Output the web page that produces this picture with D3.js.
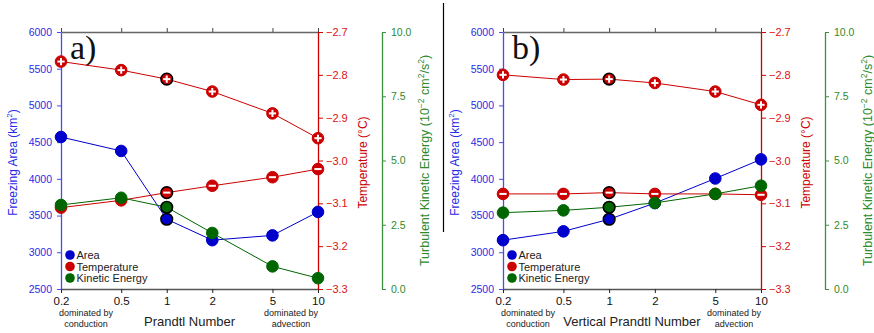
<!DOCTYPE html>
<html>
<head>
<meta charset="utf-8">
<script src="https://cdn.jsdelivr.net/npm/d3@7"></script>
<style>
  html, body { margin: 0; padding: 0; background: #fff; }
  svg { display: block; font-family: "Liberation Sans", Arial, Helvetica, sans-serif; }
</style>
</head>
<body>
<svg id="chart" width="874" height="333"></svg>
<script>
// Prandtl number sweep: x values and their labels
const prandtl = [0.2, 0.5, 1, 2, 5, 10];
const prandtlLabels = ["0.2", "0.5", "1", "2", "5", "10"];

// Panel a) – Prandtl number
const areaA = [4570, 4380, 3450, 3165, 3230, 3550];
const tempUpperA = [-2.769, -2.789, -2.810, -2.839, -2.890, -2.948];
const tempLowerA = [-3.110, -3.093, -3.075, -3.059, -3.039, -3.020];
const tkeA = [3.27, 3.55, 3.18, 2.18, 0.88, 0.42];

// Panel b) – vertical Prandtl number
const areaB = [3165, 3285, 3450, 3670, 4005, 4265];
const tempUpperB = [-2.800, -2.811, -2.810, -2.819, -2.839, -2.870];
const tempLowerB = [-3.078, -3.078, -3.075, -3.078, -3.078, -3.080];
const tkeB = [2.97, 3.06, 3.18, 3.35, 3.70, 4.02];

// Axis ticks
const areaTicks = [2500, 3000, 3500, 4000, 4500, 5000, 5500, 6000];
const tempTicks = [-3.3, -3.2, -3.1, -3.0, -2.9, -2.8, -2.7];
const tkeTicks = [0, 2.5, 5, 7.5, 10];

const legendItems = ["Area", "Temperature", "Kinetic Energy"];
const referenceCase = 1;

const BLUE = "#0000cc", BLUE_AX = "#4a4aee", BLUE_TXT = "#2a2ae6";
const RED = "#cc0000", RED_TXT = "#dd1111";
const GREEN = "#006600", GREEN_AX = "#3f8f3f", GREEN_TXT = "#2d8a2d";
const SANS = "'Liberation Sans', Arial, sans-serif";

const svg = d3.select("#chart");

// divider between the two panels
svg.append("line").attr("x1", 443.5).attr("x2", 443.5).attr("y1", 3).attr("y2", 232)
  .attr("stroke", "#000").attr("stroke-width", 1.2);

function panel(opt) {
  const L = opt.left, R = opt.right, T = 32, B = 289;
  const g = svg.append("g");
  const x = d3.scaleLog().domain([0.2, 10]).range([L, R]);
  const yA = d3.scaleLinear().domain([2500, 6000]).range([B, T]);
  const yT = d3.scaleLinear().domain([-3.3, -2.7]).range([B, T]);
  const yK = d3.scaleLinear().domain([0, 10]).range([B, T]);

  // top and bottom frame axes
  const topAx = g.append("g").attr("transform", `translate(0,${T})`)
    .call(d3.axisTop(x).tickValues(prandtl).tickFormat("").tickSizeOuter(0).tickSizeInner(4));
  topAx.select(".domain").attr("stroke", "#666").attr("stroke-width", 1.3);
  topAx.selectAll(".tick line").attr("stroke", "#444");

  const botAx = g.append("g").attr("transform", `translate(0,${B})`)
    .call(d3.axisBottom(x).tickValues(prandtl).tickFormat((d, i) => prandtlLabels[i])
      .tickSizeOuter(0).tickSizeInner(4).tickPadding(4));
  botAx.select(".domain").attr("stroke", "#555").attr("stroke-width", 1.3);
  botAx.selectAll(".tick line").attr("stroke", "#222");
  botAx.selectAll(".tick text").attr("font-size", 11.5).attr("fill", "#111").attr("font-family", SANS);

  // left: freezing area
  const lAx = g.append("g").attr("transform", `translate(${L},0)`)
    .call(d3.axisLeft(yA).tickValues(areaTicks).tickFormat(d3.format("d"))
      .tickSizeOuter(0).tickSizeInner(4).tickPadding(5));
  lAx.select(".domain").attr("stroke", BLUE_AX).attr("stroke-width", 1.3);
  lAx.selectAll(".tick line").attr("stroke", BLUE_AX);
  lAx.selectAll(".tick text").attr("fill", BLUE_TXT).attr("font-size", 10.5).attr("font-family", SANS);

  // right: temperature
  const rAx = g.append("g").attr("transform", `translate(${R},0)`)
    .call(d3.axisRight(yT).tickValues(tempTicks).tickFormat(d3.format(".1f")).tickSizeOuter(0).tickSizeInner(5));
  rAx.select(".domain").attr("stroke", RED).attr("stroke-width", 1.3);
  rAx.selectAll(".tick line").attr("stroke", RED);
  rAx.selectAll(".tick text").attr("fill", RED_TXT).attr("font-size", 11).attr("font-family", SANS);

  // far right: kinetic energy
  const kx = R + 64;
  const kAx = g.append("g").attr("transform", `translate(${kx},0)`)
    .call(d3.axisRight(yK).tickValues(tkeTicks).tickFormat(d3.format(".1f")).tickSizeOuter(0).tickSizeInner(4));
  kAx.select(".domain").attr("stroke", GREEN_AX).attr("stroke-width", 1.3);
  kAx.selectAll(".tick line").attr("stroke", GREEN_AX);
  kAx.selectAll(".tick text").attr("fill", GREEN_TXT).attr("font-size", 10.5).attr("font-family", SANS).attr("x", 9);

  // axis titles
  const midY = (T + B) / 2;
  const lt = g.append("text").attr("transform", `translate(${L - 44},${midY + 2}) rotate(-90)`)
    .attr("text-anchor", "middle").attr("font-size", 12).attr("fill", BLUE_TXT);
  lt.append("tspan").text("Freezing Area (km");
  lt.append("tspan").attr("font-size", 8).attr("dy", -5).text("2");
  lt.append("tspan").attr("dy", 5).text(")");

  g.append("text").attr("transform", `translate(${R + 49},${midY + 2}) rotate(-90)`)
    .attr("text-anchor", "middle").attr("font-size", 12).attr("fill", RED).text("Temperature (°C)");

  const kt = g.append("text").attr("transform", `translate(${kx + 46.5},${midY}) rotate(-90)`)
    .attr("text-anchor", "middle").attr("font-size", 12.5).attr("fill", GREEN_TXT);
  kt.append("tspan").text("Turbulent Kinetic Energy (10");
  kt.append("tspan").attr("font-size", 8.5).attr("dy", -5).text("−2");
  kt.append("tspan").attr("dy", 5).text(" cm");
  kt.append("tspan").attr("font-size", 8.5).attr("dy", -5).text("2");
  kt.append("tspan").attr("dy", 5).text("/s");
  kt.append("tspan").attr("font-size", 8.5).attr("dy", -5).text("2");
  kt.append("tspan").attr("dy", 5).text(")");

  // x axis title and regime notes
  g.append("text").attr("x", (L + R) / 2).attr("y", B + 37).attr("text-anchor", "middle")
    .attr("font-size", 13).attr("fill", "#222").text(opt.xTitle);
  const noteL = L + 25;
  [["dominated by", 0], ["conduction", 1]].forEach(([t, i]) =>
    g.append("text").attr("x", noteL).attr("y", B + 27 + i * 10.5).attr("text-anchor", "middle")
      .attr("font-size", 9).attr("fill", "#222").text(t));
  const noteR = R - 27;
  [["dominated by", 0], ["advection", 1]].forEach(([t, i]) =>
    g.append("text").attr("x", noteR).attr("y", B + 27 + i * 10.5).attr("text-anchor", "middle")
      .attr("font-size", 9).attr("fill", "#222").text(t));

  // panel letter
  g.append("text").attr("x", L + 9).attr("y", T + 27)
    .attr("font-family", "'Liberation Serif', 'DejaVu Serif', serif")
    .attr("font-size", 34).attr("fill", "#111").text(opt.letter);

  const line = (ys, vals) => d3.line().x((d, i) => x(prandtl[i])).y(d => ys(d))(vals);
  const R0 = 5.8;

  function circles(ys, vals, color) {
    g.selectAll(null).data(vals).enter().append("circle")
      .attr("cx", (d, i) => x(prandtl[i])).attr("cy", d => ys(d)).attr("r", R0)
      .attr("fill", color)
      .attr("stroke", (d, i) => prandtl[i] === referenceCase ? "#000" : color)
      .attr("stroke-width", (d, i) => prandtl[i] === referenceCase ? 1.6 : 1);
  }

  // area
  g.append("path").attr("d", line(yA, opt.area)).attr("fill", "none").attr("stroke", BLUE).attr("stroke-width", 1);
  circles(yA, opt.area, BLUE);

  // temperature (two series, marked with + and −)
  [[opt.tempUpper, true], [opt.tempLower, false]].forEach(([vals, plus]) => {
    g.append("path").attr("d", line(yT, vals)).attr("fill", "none").attr("stroke", RED).attr("stroke-width", 1);
    circles(yT, vals, RED);
    vals.forEach((d, i) => {
      const cx = x(prandtl[i]), cy = yT(d);
      g.append("line").attr("x1", cx - 3.6).attr("x2", cx + 3.6).attr("y1", cy).attr("y2", cy)
        .attr("stroke", "#fff").attr("stroke-width", 2);
      if (plus) g.append("line").attr("x1", cx).attr("x2", cx).attr("y1", cy - 3.6).attr("y2", cy + 3.6)
        .attr("stroke", "#fff").attr("stroke-width", 2);
    });
  });

  // kinetic energy
  g.append("path").attr("d", line(yK, opt.tke)).attr("fill", "none").attr("stroke", GREEN).attr("stroke-width", 1);
  circles(yK, opt.tke, GREEN);

  // legend
  const legColors = [BLUE, RED, GREEN];
  legendItems.forEach((t, i) => {
    const ly = 255 + i * 11.5;
    g.append("circle").attr("cx", L + 9).attr("cy", ly).attr("r", 4.8).attr("fill", legColors[i]);
    g.append("text").attr("x", L + 15.5).attr("y", ly + 4).attr("font-size", 11).attr("fill", "#222").text(t);
  });
}

panel({ left: 61, right: 318, letter: "a)", xTitle: "Prandtl Number",
  area: areaA, tempUpper: tempUpperA, tempLower: tempLowerA, tke: tkeA });
panel({ left: 503, right: 761, letter: "b)", xTitle: "Vertical Prandtl Number",
  area: areaB, tempUpper: tempUpperB, tempLower: tempLowerB, tke: tkeB });
</script>
</body>
</html>
